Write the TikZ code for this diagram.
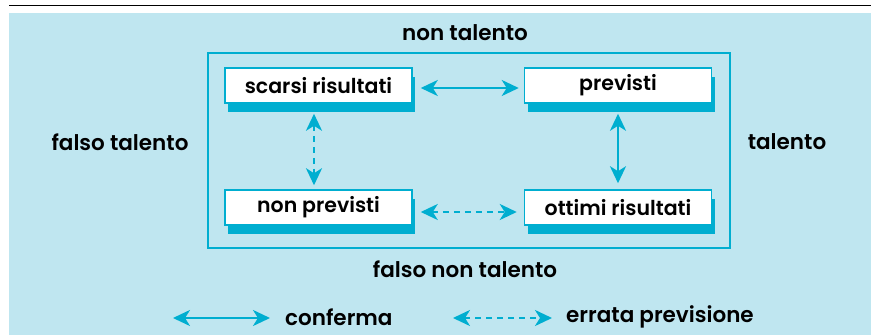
\documentclass[tikz,border=0pt]{standalone}
\usepackage{fontspec}
\setmainfont{Poppins}[BoldFont={Poppins SemiBold}]
\usetikzlibrary{arrows.meta,shadows}
\definecolor{bgblue}{RGB}{191,230,240}
\definecolor{cyanc}{RGB}{0,174,208}
\tikzset{
  box/.style={draw=cyanc, line width=1.5pt, fill=white, minimum width=187pt, minimum height=35pt, inner sep=0pt,
    font=\fontsize{20.5}{22}\selectfont\bfseries,
    general shadow={shadow xshift=3pt, shadow yshift=-9pt, fill=cyanc}},
  lbl/.style={font=\fontsize{21.5}{23}\selectfont\bfseries, inner sep=0pt},
  conn/.style={cyanc, line width=2.5pt, {Stealth[length=17pt,width=16pt,inset=5pt]}-{Stealth[length=17pt,width=16pt,inset=5pt]}},
  wrong/.style={conn, dash pattern=on 6pt off 5pt},
}
\begin{document}
\begin{tikzpicture}[x=1pt,y=-1pt]
\useasboundingbox (0,0) rectangle (871,335);
\fill[bgblue] (9,13) rectangle (871,335);
\draw[line width=1.6pt] (9,5.5) -- (871,5.5);
\draw[cyanc, line width=2pt] (208,53) rectangle (730,248);
\node[box] (sr) at (318.5,85.5) {scarsi risultati};
\node[box] (pr) at (618,85.5) {previsti};
\node[box] (np) at (318.5,207.5) {non previsti};
\node[box] (or) at (618,207.5) {ottimi risultati};
\draw[conn] ([xshift=8pt]sr.east|-0,88) -- ([xshift=-5pt]pr.west|-0,88);
\draw[conn] ([yshift=-10pt]pr.south) -- ([yshift=6pt]or.north);
\draw[wrong] ([yshift=-10pt]sr.south-|314,0) -- ([yshift=4pt]np.north-|314,0);
\draw[wrong] ([xshift=8pt]np.east|-0,212) -- ([xshift=-7pt]or.west|-0,212);
\node[lbl] (nt) at (465,33) {non talento};
\node[lbl] (ft) at (120,142) {falso talento};
\node[lbl] (t) at (787,142) {talento};
\node[lbl] (fnt) at (465,269) {falso non talento};
\coordinate (l1a) at (173,318);
\coordinate (l1b) at (270,318);
\draw[conn] (l1a) -- (l1b);
\node[lbl, anchor=west] (cf) at (285,317) {conferma};
\coordinate (l2a) at (453,318);
\coordinate (l2b) at (552,318);
\draw[wrong] (l2a) -- (l2b);
\node[lbl, anchor=west] (ep) at (566,317) {errata previsione};
\end{tikzpicture}
\end{document}
